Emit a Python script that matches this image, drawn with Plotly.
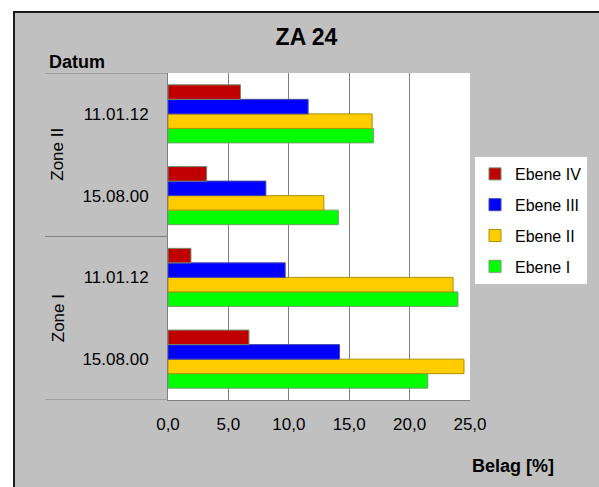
import plotly.graph_objects as go

# Data: surface coverage per level, grouped by zone and survey date
zones = ["Zone I", "Zone I", "Zone II", "Zone II"]
dates = ["15.08.00", "11.01.12", "15.08.00", "11.01.12"]
ebene_i = [21.5, 24.0, 14.1, 17.0]
ebene_ii = [24.5, 23.6, 12.9, 16.9]
ebene_iii = [14.2, 9.7, 8.1, 11.6]
ebene_iv = [6.7, 1.9, 3.2, 6.0]

series = [
    ("Ebene I", ebene_i, "#00FF00", "#6E9E6E"),
    ("Ebene II", ebene_ii, "#FFCC00", "#A89200"),
    ("Ebene III", ebene_iii, "#0000FF", "#4848A8"),
    ("Ebene IV", ebene_iv, "#C00000", "#6E8C6E"),
]

FONT = "Arial, Liberation Sans, sans-serif"
W, H = 599, 487
L, R, T, B = 168, 470, 73, 400  # plot area in pixels


def px(x):
    return (x - L) / (R - L)


def py(y):
    return (B - y) / (B - T)


pos = list(range(len(dates)))

fig = go.Figure()
for k, (name, vals, fill, edge) in enumerate(series):
    fig.add_trace(go.Bar(
        x=vals, y=pos, orientation="h", name=name, legendgroup=name,
        legendrank=len(series) - k,
        marker=dict(color=fill, line=dict(color=edge, width=1)),
    ))

shapes = [
    # white margin strips outside the grey chart frame
    dict(type="rect", xref="paper", yref="paper", x0=px(0), x1=px(W + 2),
         y0=py(11), y1=py(-2), fillcolor="white", line=dict(width=0), layer="below"),
    dict(type="rect", xref="paper", yref="paper", x0=px(-2), x1=px(13),
         y0=py(H + 2), y1=py(-2), fillcolor="white", line=dict(width=0), layer="below"),
    # dark frame edges
    dict(type="line", xref="paper", yref="paper", x0=px(13), x1=px(W + 2),
         y0=py(12), y1=py(12), line=dict(color="#1a1a1a", width=2)),
    dict(type="line", xref="paper", yref="paper", x0=px(14), x1=px(14),
         y0=py(11), y1=py(H + 2), line=dict(color="#1a1a1a", width=2)),
]
# category group dividers to the left of the plot
for yv in (-0.5, 1.5, 3.5):
    shapes.append(dict(type="line", xref="paper", yref="y", x0=px(45), x1=0,
                       y0=yv, y1=yv, line=dict(color="#808080", width=1)))

annotations = [
    dict(text="<b>Datum</b>", xref="paper", yref="paper", x=px(47), y=py(62),
         xanchor="left", yanchor="middle", showarrow=False,
         font=dict(family=FONT, size=18, color="black")),
    dict(text="<b>Belag [%]</b>", xref="paper", yref="paper", x=px(470), y=py(466),
         xanchor="left", yanchor="middle", showarrow=False,
         font=dict(family=FONT, size=18, color="black")),
]
for zone in dict.fromkeys(zones):
    idx = [i for i, z in enumerate(zones) if z == zone]
    annotations.append(dict(
        text=zone, xref="paper", yref="y", x=px(58), y=sum(idx) / len(idx),
        xanchor="center", yanchor="middle", textangle=-90, showarrow=False,
        font=dict(family=FONT, size=17, color="black")))

fig.update_layout(
    width=W, height=H,
    margin=dict(l=L, r=W - R, t=T, b=H - B, pad=0),
    paper_bgcolor="#C0C0C0", plot_bgcolor="white",
    separators=", ",
    barmode="group", bargap=0.29, bargroupgap=0,
    title=dict(text="<b>ZA 24</b>", xref="container", yref="container",
               x=306.5 / W, y=1 - 37 / H, xanchor="center", yanchor="middle",
               font=dict(family=FONT, size=23, color="black")),
    xaxis=dict(range=[0, 25], dtick=5, tick0=0, tickformat=".1f",
               showgrid=True, gridcolor="#808080", gridwidth=1, zeroline=False,
               showline=True, linecolor="#808080", linewidth=1,
               ticks="", ticklabelstandoff=9,
               tickfont=dict(family=FONT, size=17, color="black"), fixedrange=True),
    yaxis=dict(range=[-0.5, 3.5], tickvals=pos, ticktext=dates,
               showgrid=False, zeroline=False,
               showline=True, linecolor="#808080", linewidth=1,
               ticks="", ticklabelstandoff=15,
               tickfont=dict(family=FONT, size=17, color="black"), fixedrange=True),
    legend=dict(x=px(475), y=py(157), xanchor="left", yanchor="top",
                bgcolor="white", borderwidth=0,
                traceorder="grouped", tracegroupgap=7,
                font=dict(family=FONT, size=16, color="black")),
    shapes=shapes, annotations=annotations,
)

fig.write_html("out.html")
